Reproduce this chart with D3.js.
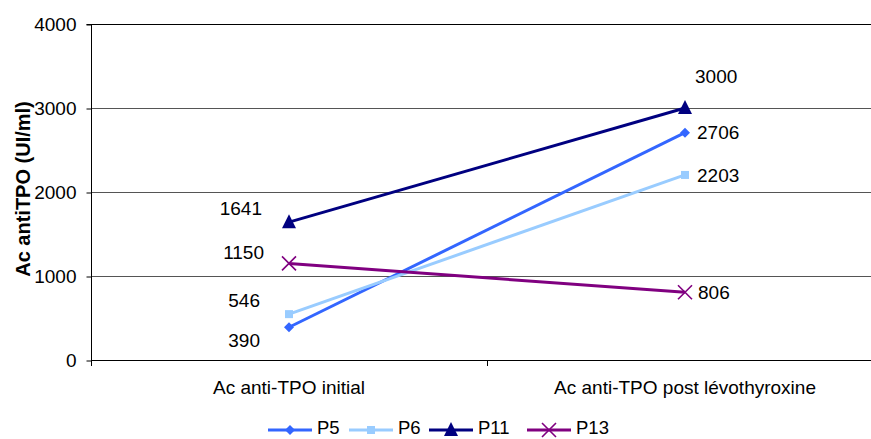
<!DOCTYPE html>
<html><head><meta charset="utf-8">
<script src="https://cdn.jsdelivr.net/npm/d3@7"></script>
<style>body{margin:0;background:#fff}svg{display:block;font-family:"Liberation Sans",Arial,sans-serif}</style>
</head><body><svg id="c" width="871" height="439"></svg>
<script>
const categories = ["Ac anti-TPO initial", "Ac anti-TPO post lévothyroxine"];
const seriesNames = ["P5", "P6", "P11", "P13"];
const P5 = [390, 2706];
const P6 = [546, 2203];
const P11 = [1641, 3000];
const P13 = [1150, 806];
const yTicks = [0, 1000, 2000, 3000, 4000];
const yTitle = "Ac antiTPO (UI/ml)";

const colors = ["#3366FF", "#99CCFF", "#000080", "#800080"];
const symbols = ["diamond", "square", "triangle", "cross"];
// label placement per series per point: [dx, dy] relative to the point
const labelPos = [
  [[-29, 13], [12, 0]],
  [[-29, -14], [12, 0]],
  [[-27, -14], [10, -32]],
  [[-25, -11], [13, 0]]
];

const series = [P5, P6, P11, P13];
const FS = 19;
const svg = d3.select("#c");
const m = {l: 91, r: 883, t: 24, b: 360};
const x = d3.scaleBand().domain(categories).range([m.l, m.r]);
const y = d3.scaleLinear().domain([0, 4000]).range([m.b, m.t]);

// gridlines
svg.append("g").selectAll("line").data(yTicks).join("line")
  .attr("x1", m.l).attr("x2", m.r)
  .attr("y1", d => Math.round(y(d)) + 0.5).attr("y2", d => Math.round(y(d)) + 0.5)
  .attr("stroke", d => (d === 0 || d === 4000) ? "#000" : "#555").attr("stroke-width", 1);

// y axis
const ya = svg.append("g").attr("transform", `translate(${m.l + 0.5},0)`)
  .call(d3.axisLeft(y).tickValues(yTicks).tickSize(5).tickPadding(10).tickFormat(d3.format("d")));
ya.select(".domain").attr("stroke", "#000").attr("d", `M-5,${m.t + 0.5}H0V${m.b + 0.5}`);
ya.selectAll(".tick line").attr("stroke", "#000").attr("transform", "translate(0,0.5)");
ya.selectAll("text").attr("font-size", FS).attr("font-family", "Liberation Sans, Arial, sans-serif").attr("fill", "#000");

// x axis
const xa = svg.append("g").attr("transform", `translate(0,${m.b + 0.5})`)
  .call(d3.axisBottom(x).tickSize(0).tickPadding(20));
xa.select(".domain").remove();
xa.selectAll("text").attr("font-size", FS).attr("font-family", "Liberation Sans, Arial, sans-serif").attr("fill", "#000");
const bounds = [m.l, m.l + x.bandwidth(), m.r];
svg.append("g").selectAll("line").data(bounds).join("line")
  .attr("x1", d => Math.round(d) + 0.5).attr("x2", d => Math.round(d) + 0.5)
  .attr("y1", m.b).attr("y2", m.b + 6).attr("stroke", "#000");

const cx = c => x(c) + x.bandwidth() / 2;

function marker(g, type, color, px, py, s) {
  s = s || 1;
  if (type === "diamond") g.append("path").attr("d", `M${px},${py-5*s}L${px+5*s},${py}L${px},${py+5*s}L${px-5*s},${py}Z`).attr("fill", color);
  else if (type === "square") g.append("rect").attr("x", px-4*s).attr("y", py-4*s).attr("width", 8*s).attr("height", 8*s).attr("fill", color);
  else if (type === "triangle") g.append("path").attr("d", `M${px},${py-8*s}L${px+7*s},${py+6*s}L${px-7*s},${py+6*s}Z`).attr("fill", color);
  else g.append("path").attr("d", `M${px-7*s},${py-7*s}L${px+7*s},${py+7*s}M${px+7*s},${py-7*s}L${px-7*s},${py+7*s}`).attr("stroke", color).attr("stroke-width", 1.6).attr("fill", "none");
}

const line = d3.line().x((d, i) => cx(categories[i])).y(d => y(d));
series.forEach((s, k) => {
  const g = svg.append("g");
  g.append("path").attr("d", line(s)).attr("fill", "none").attr("stroke", colors[k]).attr("stroke-width", 3);
  s.forEach((v, i) => {
    marker(g, symbols[k], colors[k], cx(categories[i]), y(v));
    const [dx, dy] = labelPos[k][i];
    g.append("text").attr("x", cx(categories[i]) + dx).attr("y", y(v) + dy)
      .attr("dy", "0.35em").attr("text-anchor", i === 0 ? "end" : "start")
      .attr("font-size", FS).attr("fill", "#000").text(d3.format("d")(v));
  });
});

// y title
svg.append("text").attr("transform", `translate(30,${(m.t + m.b) / 2 - 3}) rotate(-90)`)
  .attr("text-anchor", "middle").attr("font-weight", "bold").attr("font-size", 20).text(yTitle);

// legend
const legX = [268, 349, 429, 527];
const lg = svg.append("g");
seriesNames.forEach((n, k) => {
  const lx = legX[k], ly = 430;
  lg.append("line").attr("x1", lx).attr("x2", lx + 44).attr("y1", ly).attr("y2", ly).attr("stroke", colors[k]).attr("stroke-width", 3);
  marker(lg, symbols[k], colors[k], lx + 22, ly, 1);
  lg.append("text").attr("x", lx + 49).attr("y", ly - 2).attr("dy", "0.35em").attr("font-size", 18.5).text(n);
});
</script></body></html>
